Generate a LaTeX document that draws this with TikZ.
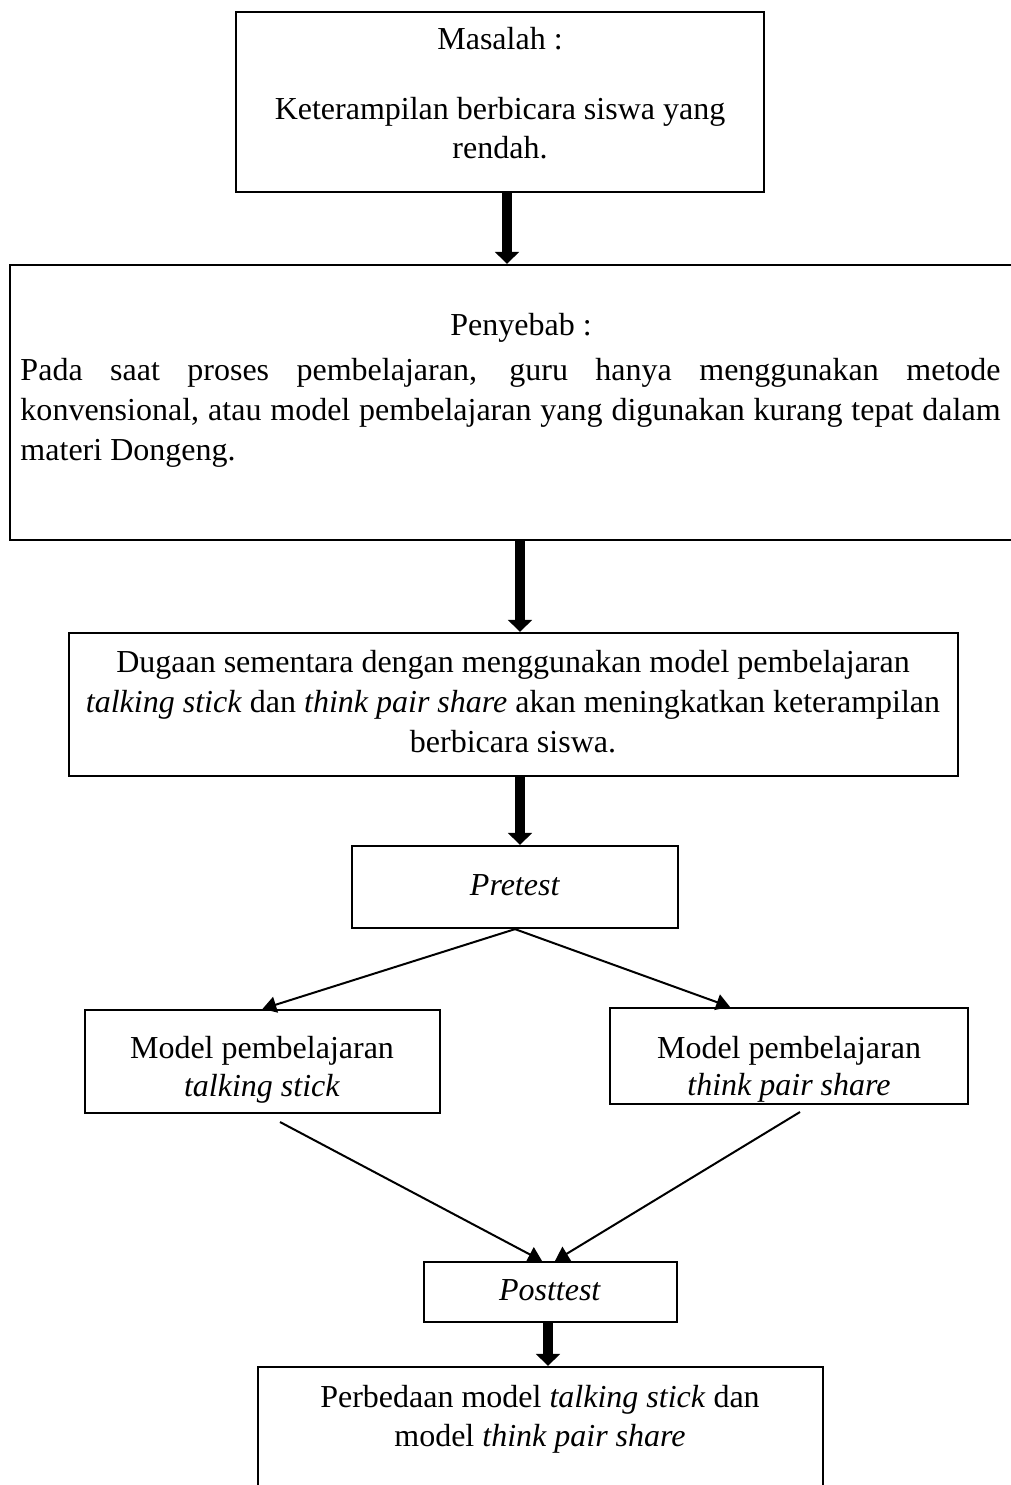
\documentclass[tikz,border=0pt]{standalone}
\usepackage{fontspec}
\setmainfont{Liberation Serif}
\usetikzlibrary{arrows.meta}
\tikzset{
  box/.style={draw, line width=0.9pt, inner sep=0pt, rectangle},
  txt/.style={anchor=base, inner sep=0pt, font=\fontsize{12.8pt}{15pt}\selectfont},
  txtw/.style={anchor=base west, inner sep=0pt, font=\fontsize{12.8pt}{15pt}\selectfont},
  fat/.style={line width=4pt, -{Triangle[width=9.5pt,length=4.8pt]}},
  thinarrow/.style={line width=0.8pt, -{Triangle[width=6.5pt,length=5.5pt]}}
}
\begin{document}
\begin{tikzpicture}[x=0.4pt,y=-0.4pt]
\useasboundingbox (0,0) rectangle (1011,1485);
\clip (0,0) rectangle (1011,1485);
% boxes
\node[box, minimum width=211.2pt, minimum height=72pt] (b1) at (500,102) {};
\node[box, minimum width=412pt, minimum height=110pt] (b2) at (525,402.5) {};
\node[box, minimum width=355.6pt, minimum height=57.2pt] (b3) at (513.5,704.5) {};
\node[box, minimum width=130.4pt, minimum height=32.8pt] (pre) at (515,887) {};
\node[box, minimum width=142pt, minimum height=41.2pt] (left) at (262.5,1061.5) {};
\node[box, minimum width=143.2pt, minimum height=38.4pt] (right) at (789,1056) {};
\node[box, minimum width=101.2pt, minimum height=24pt] (post) at (550.5,1292) {};
\node[box, minimum width=226pt, minimum height=56pt] (b7) at (540.5,1437) {};
% texts
\node[txt] (t1a) at (500,50) {Masalah :};
\node[txt] (t1b) at (500,120) {Keterampilan berbicara siswa yang};
\node[txt] (t1c) at (500,159) {rendah.};
\node[txt] (t2a) at (521,335) {Penyebab :};
\node[txtw] (t2b) at (20,380) {\makebox[392pt][s]{Pada saat proses pembelajaran, guru hanya menggunakan metode}};
\node[txtw] (t2c) at (20,420) {\makebox[392pt][s]{konvensional, atau model pembelajaran yang digunakan kurang tepat dalam}};
\node[txtw] (t2d) at (20,460) {materi Dongeng.};
\node[txt] (t3a) at (513,672) {Dugaan sementara dengan menggunakan model pembelajaran};
\node[txt] (t3b) at (513,712) {\textit{talking stick} dan \textit{think pair share} akan meningkatkan keterampilan};
\node[txt] (t3c) at (513,752) {berbicara siswa.};
\node[txt] (t4) at (515,895) {\textit{Pretest}};
\node[txt] (t5a) at (262,1058) {Model pembelajaran};
\node[txt] (t5b) at (262,1096) {\textit{talking stick}};
\node[txt] (t6a) at (789,1058) {Model pembelajaran};
\node[txt] (t6b) at (789,1095) {\textit{think pair share}};
\node[txt] (t7) at (550,1300) {\textit{Posttest}};
\node[txt] (t8a) at (540,1407) {Perbedaan model \textit{talking stick} dan};
\node[txt] (t8b) at (540,1446) {model \textit{think pair share}};
% connectors
\draw[fat] ([xshift=2.8pt]b1.south) -- ([xshift=2.8pt]b1.south |- b2.north);
\draw[fat] ([xshift=-2pt]b2.south) -- ([xshift=-2pt]b2.south |- b3.north);
\draw[fat] ([xshift=2.6pt]b3.south) -- ([xshift=2.6pt]b3.south |- pre.north);
\draw[thinarrow] (pre.south) -- (left.north);
\draw[thinarrow] (pre.south) -- ([xshift=-23.6pt]right.north);
\coordinate (ls) at (280,1122);
\coordinate (rs) at (800,1112);
\draw[thinarrow] (ls) -- ([xshift=-3.4pt]post.north);
\draw[thinarrow] (rs) -- ([xshift=1.8pt]post.north);
\draw[fat] ([xshift=-1pt]post.south) -- ([xshift=-1pt]post.south |- b7.north);
\end{tikzpicture}
\end{document}
